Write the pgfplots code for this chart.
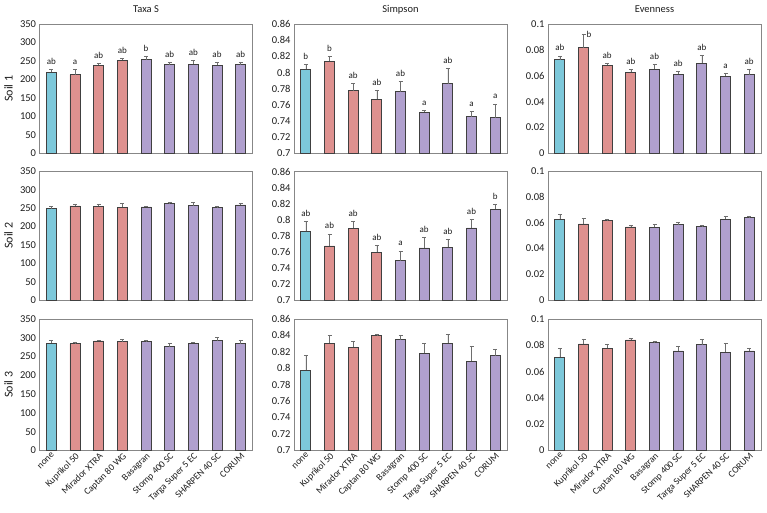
\documentclass[border=0pt]{standalone}
\usepackage{fontspec}
\setmainfont{Carlito}
\usepackage{pgfplots}
\usepackage{pgfplotstable}
\pgfplotsset{compat=1.18}

\definecolor{cbar}{RGB}{125,200,218}
\definecolor{sbar}{RGB}{222,145,143}
\definecolor{pbar}{RGB}{176,160,206}
\definecolor{edge}{RGB}{64,64,64}
\definecolor{frame}{RGB}{135,135,135}
\definecolor{errc}{RGB}{110,110,110}
\definecolor{txt}{RGB}{30,30,30}

% x = category index, y = mean, e = error (upper), l = letter
\pgfplotstableread{
x y e l
0 220 7 ab
1 213 14 a
2 239 4.5 ab
3 252.5 5.5 ab
4 254 7.5 b
5 240 7 ab
6 241.5 11 ab
7 238 9 ab
8 240 7 ab
}\TaxaA
\pgfplotstableread{
x y e l
0 0.804 0.0065 b
1 0.8138 0.0062 b
2 0.7775 0.0095 ab
3 0.767 0.0114 ab
4 0.7763 0.0124 ab
5 0.7511 0.0025 a
6 0.7862 0.0185 ab
7 0.7454 0.0066 a
8 0.7441 0.0173 a
}\SimA
\pgfplotstableread{
x y e l
0 0.0724 0.0029 ab
1 0.0817 0.0103 b
2 0.0683 0.0010 ab
3 0.0626 0.0024 ab
4 0.0652 0.0036 ab
5 0.0613 0.0018 ab
6 0.0696 0.0062 ab
7 0.0595 0.0021 a
8 0.0608 0.0042 ab
}\EvA
\pgfplotstableread{
x y e
0 249 6.5
1 256.4 5.5
2 255.5 6.5
3 252.7 10
4 253.6 2
5 262 3.5
6 257 9
7 252 2.5
8 259 4.5
}\TaxaB
\pgfplotstableread{
x y e l
0 0.7856 0.0121 ab
1 0.7673 0.015 ab
2 0.7894 0.0083 ab
3 0.7594 0.0083 ab
4 0.749 0.0121 a
5 0.7648 0.0133 ab
6 0.7657 0.0095 ab
7 0.7898 0.0108 ab
8 0.813 0.0063 b
}\SimB
\pgfplotstableread{
x y e
0 0.0629 0.0036
1 0.0592 0.0044
2 0.0618 0.0013
3 0.0569 0.0013
4 0.0566 0.0021
5 0.0587 0.0016
6 0.0571 0.0008
7 0.0629 0.0020
8 0.0642 0.0013
}\EvB
\pgfplotstableread{
x y e
0 286 8
1 284 5
2 291.5 2
3 290 5.5
4 289.5 4.5
5 276.5 8
6 285.5 3
7 292 8
8 284 8.5
}\TaxaC
\pgfplotstableread{
x y e
0 0.798 0.018
1 0.8305 0.0093
2 0.8256 0.0073
3 0.840 0.0008
4 0.8347 0.0053
5 0.8183 0.0122
6 0.8305 0.0109
7 0.8083 0.0187
8 0.8155 0.0073
}\SimC
\pgfplotstableread{
x y e
0 0.0711 0.0066
1 0.0810 0.0038
2 0.0777 0.0033
3 0.0841 0.0015
4 0.0820 0.0010
5 0.0757 0.0033
6 0.0804 0.0041
7 0.0749 0.0063
8 0.0757 0.0023
}\EvC

\pgfplotsset{
  base/.style={
    width=213pt, scale only axis, anchor=north west,
    xmin=-0.5, xmax=8.5, xtick={0,...,8}, xticklabels={},
    major tick length=0pt,
    axis line style={frame, line width=0.8pt},
    tick label style={font=\fontsize{10.5}{12}\selectfont, text=txt},
    scaled y ticks=false,
    /pgf/number format/assume math mode=true,
    yticklabel style={/pgf/number format/fixed, /pgf/number format/precision=2},
    clip=false,
    title style={at={(0.5,1)}, anchor=base, yshift=5pt, inner sep=0pt, font=\fontsize{10.5}{12}\selectfont, text=txt},
    ylabel style={at={(axis description cs:-0.125,0.5)}, anchor=south, inner sep=0pt, font=\fontsize{12}{14}\selectfont, text=txt},
  },
  barst/.style={ybar, bar width=10pt, bar shift=0pt, draw=edge, line width=0.7pt,
    /pgfplots/error bars/y dir=plus, /pgfplots/error bars/y explicit,
    /pgfplots/error bars/error bar style={errc, line width=0.6pt},
    /pgfplots/error bars/error mark options={rotate=90, errc, mark size=2pt, line width=0.6pt}},
  lett/.style={draw=none, mark=none, nodes near coords, point meta=explicit symbolic,
    every node near coord/.append style={font=\fontsize{9}{10}\selectfont, text=txt, anchor=base, inner sep=0pt, yshift=5pt}},
  taxa/.style={ymin=0, ymax=350, ytick={0,50,100,150,200,250,300,350}},
  simp/.style={ymin=0.7, ymax=0.86, ytick={0.7,0.72,0.74,0.76,0.78,0.8,0.82,0.84,0.86}},
  even/.style={ymin=0, ymax=0.1, ytick={0,0.02,0.04,0.06,0.08,0.1}},
  row1/.style={height=129.5pt},
  row2/.style={height=128.5pt},
  row3/.style={height=131.5pt,
    xticklabels={none, Kuprikol 50, Mirador XTRA, Captan 80 WG, Basagran, Stomp 400 SC, Targa Super 5 EC, SHARPEN 40 SC, CORUM},
    xticklabel style={rotate=45, anchor=north east, font=\fontsize{9.5}{11}\selectfont, inner sep=1pt, text=txt}},
}

\newcommand{\bars}[1]{%
  \addplot[barst, fill=cbar, restrict x to domain=0:0] table[x=x,y=y,y error=e]{#1};
  \addplot[barst, fill=sbar, restrict x to domain=1:3] table[x=x,y=y,y error=e]{#1};
  \addplot[barst, fill=pbar, restrict x to domain=4:8] table[x=x,y=y,y error=e]{#1};
}
\newcommand{\letters}[1]{%
  \addplot[lett] table[x=x, y expr=\thisrow{y}+\thisrow{e}, meta=l]{#1};
}

\begin{document}
\begin{tikzpicture}
\useasboundingbox (0,0) rectangle (767pt,-513pt);
% Row 1
\begin{axis}[base, row1, taxa, at={(39.5pt,-24pt)}, title={Taxa S}, ylabel={Soil 1}]
\bars{\TaxaA}
\letters{\TaxaA}
\end{axis}
\begin{axis}[base, row1, simp, at={(294pt,-24pt)}, title={Simpson}]
\bars{\SimA}
\letters{\SimA}
\end{axis}
\begin{axis}[base, row1, even, at={(548pt,-24pt)}, title={Evenness}]
\bars{\EvA}
\addplot[lett, x filter/.expression={x==1 ? nan : x}] table[x=x, y expr=\thisrow{y}+\thisrow{e}, meta=l]{\EvA};
\addplot[lett, restrict x to domain=1:1, every node near coord/.append style={anchor=west, yshift=-5pt, xshift=3pt}] table[x=x, y expr=\thisrow{y}+\thisrow{e}, meta=l]{\EvA};
\end{axis}
% Row 2
\begin{axis}[base, row2, taxa, at={(39.5pt,-171.5pt)}, ylabel={Soil 2}]
\bars{\TaxaB}
\end{axis}
\begin{axis}[base, row2, simp, at={(294pt,-171.5pt)}]
\bars{\SimB}
\letters{\SimB}
\end{axis}
\begin{axis}[base, row2, even, at={(548pt,-171.5pt)}]
\bars{\EvB}
\end{axis}
% Row 3
\begin{axis}[base, row3, taxa, at={(39.5pt,-319pt)}, ylabel={Soil 3}]
\bars{\TaxaC}
\end{axis}
\begin{axis}[base, row3, simp, at={(294pt,-319pt)}]
\bars{\SimC}
\end{axis}
\begin{axis}[base, row3, even, at={(548pt,-319pt)}]
\bars{\EvC}
\end{axis}
\end{tikzpicture}
\end{document}
